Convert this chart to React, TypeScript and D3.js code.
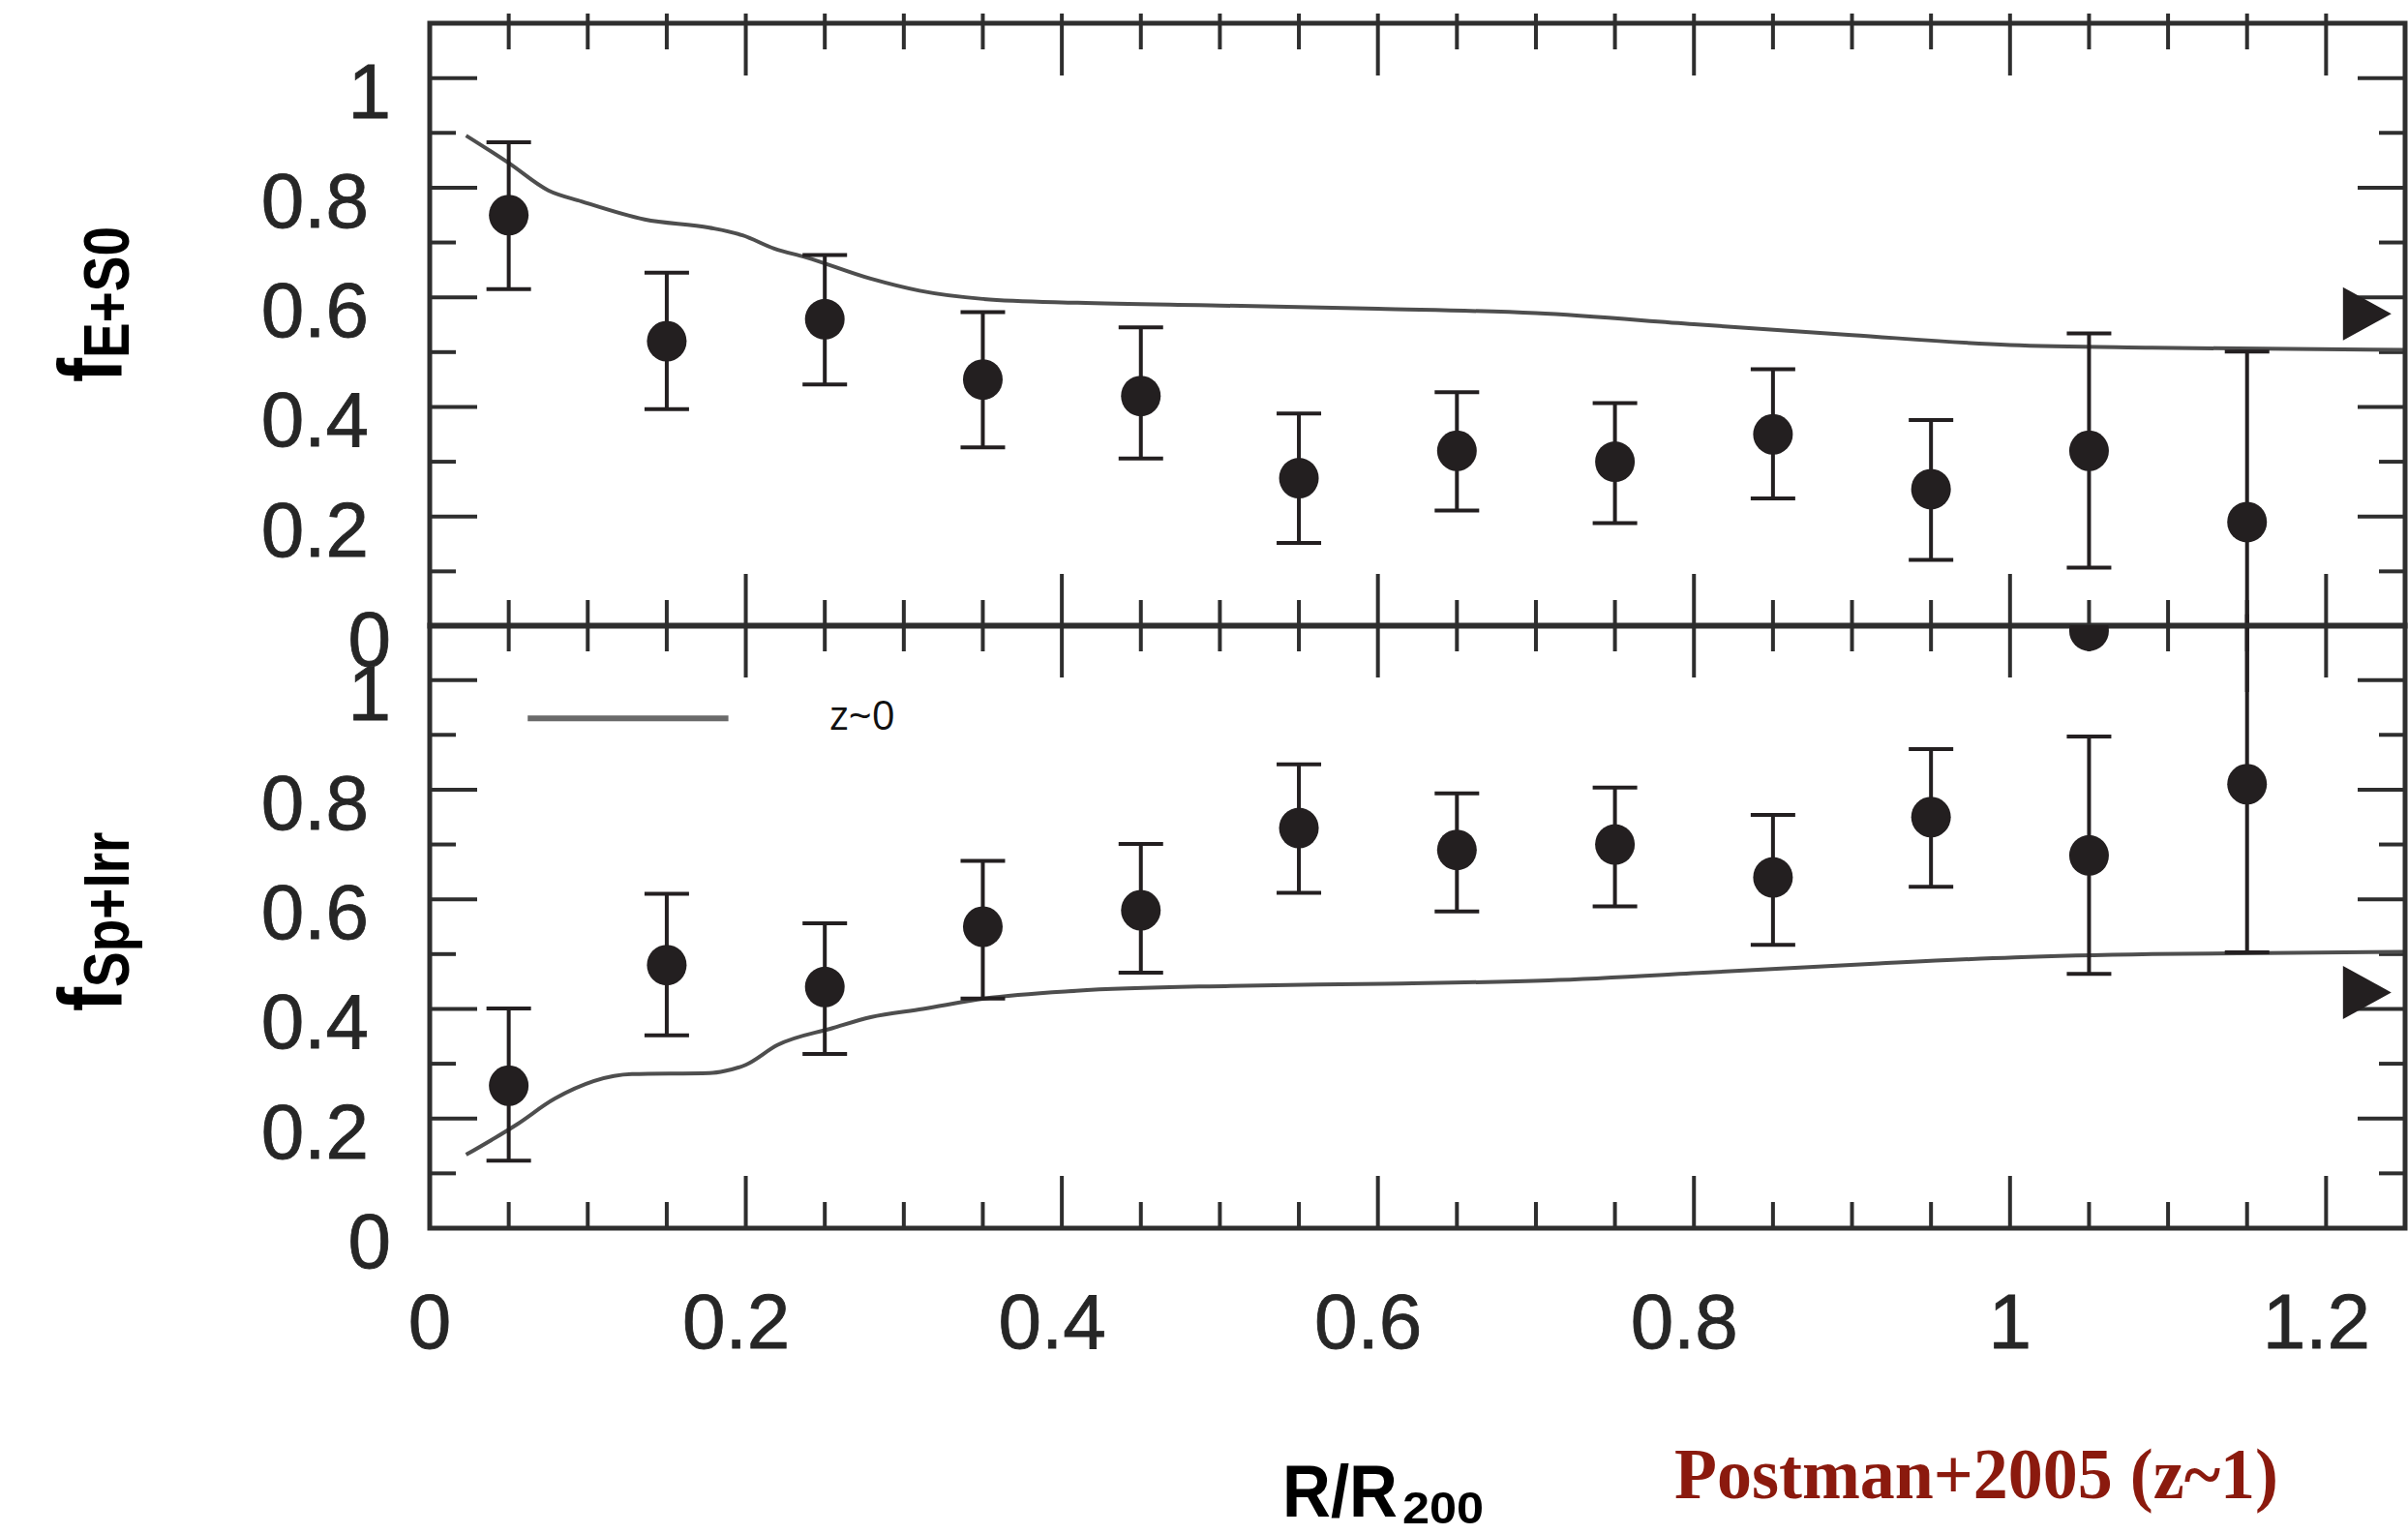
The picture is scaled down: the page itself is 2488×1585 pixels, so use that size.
import React from "react";
import * as d3 from "d3";

// Cluster-centric radius bins (R/R200)
const radiusBins = [0.05, 0.15, 0.25, 0.35, 0.45, 0.55, 0.65, 0.75, 0.85, 0.95, 1.05, 1.15];

// Early-type fraction f(E+S0) at z~1 with error bounds
const earlyFrac = [0.75, 0.52, 0.56, 0.45, 0.42, 0.27, 0.32, 0.3, 0.35, 0.25, 0.32, 0.19];
const earlyHi = [0.883, 0.645, 0.677, 0.573, 0.545, 0.388, 0.427, 0.407, 0.469, 0.376, 0.534, 0.501];
const earlyLo = [0.615, 0.396, 0.441, 0.326, 0.306, 0.152, 0.211, 0.188, 0.233, 0.121, 0.107, -0.12];

// Late-type fraction f(Sp+Irr) at z~1 with error bounds
const lateFrac = [0.26, 0.48, 0.44, 0.55, 0.58, 0.73, 0.69, 0.7, 0.64, 0.75, 0.68, 0.81];
const lateHi = [0.401, 0.61, 0.556, 0.67, 0.701, 0.846, 0.793, 0.804, 0.754, 0.874, 0.897, 1.12];
const lateLo = [0.123, 0.352, 0.318, 0.419, 0.466, 0.612, 0.578, 0.587, 0.517, 0.623, 0.464, 0.503];

// Local (z~0) relation
const localEarlyR = [0.023, 0.05, 0.075, 0.096, 0.136, 0.177, 0.198, 0.218, 0.238, 0.279, 0.31, 0.35, 0.41, 0.5, 0.6, 0.7, 0.8, 0.9, 1.0, 1.09, 1.25];
const localEarlyF = [0.895, 0.845, 0.795, 0.775, 0.742, 0.727, 0.713, 0.689, 0.673, 0.634, 0.612, 0.597, 0.59, 0.585, 0.579, 0.571, 0.551, 0.531, 0.513, 0.508, 0.504];
const localLateR = [0.023, 0.055, 0.079, 0.128, 0.177, 0.187, 0.2, 0.22, 0.255, 0.279, 0.312, 0.351, 0.409, 0.507, 0.604, 0.708, 0.812, 0.917, 1.003, 1.09, 1.25];
const localLateF = [0.134, 0.189, 0.236, 0.281, 0.283, 0.287, 0.298, 0.334, 0.365, 0.385, 0.4, 0.419, 0.433, 0.442, 0.446, 0.452, 0.467, 0.483, 0.494, 0.5, 0.504];

// Field values marked at the right edge
const fieldR = 1.226;
const fieldEarly = 0.57;
const fieldLate = 0.43;

// Marker cut by the top edge of the lower panel
const edgeMarkerR = 1.05;
const edgeMarkerF = 1.09;

// Axis ticks
const yTickLabels = ["0", "0.2", "0.4", "0.6", "0.8", "1"];
const xTickLabels = ["0", "0.2", "0.4", "0.6", "0.8", "1", "1.2"];

const W = 2488;
const H = 1585;
const INK = "#231f20";
const FRAME = "#2e2e2e";
const LABEL = "#262626";
const SANS = "'Liberation Sans', Arial, Helvetica, sans-serif";

const x = d3.scaleLinear().domain([0, 1.25]).range([444, 2485]);
const yTop = d3.scaleLinear().domain([0, 1.1]).range([647, 24]);
const yBot = d3.scaleLinear().domain([0, 1.1]).range([1269, 646]);

const xMinor = d3.range(1, 25).map((i) => +(i * 0.05).toFixed(2));
const yMinor = d3.range(1, 11).map((i) => +(i * 0.1).toFixed(1));

type PanelProps = {
  y: d3.ScaleLinear<number, number>;
  frac: number[];
  hi: number[];
  lo: number[];
  localR: number[];
  localF: number[];
  field: number;
  outerTop: boolean;
  clipId: string;
};

function Panel({ y, frac, hi, lo, localR, localF, field, outerTop, clipId }: PanelProps) {
  const [x0, x1] = x.range();
  const yb = y(0);
  const yt = y(1.1);
  const line = d3
    .line<number>()
    .x((_, i) => x(localR[i]))
    .y((d) => y(d))
    .curve(d3.curveMonotoneX);
  const isMajor = (v: number) => Math.abs(v / 0.2 - Math.round(v / 0.2)) < 1e-6;
  const cap = 23;
  const fx = x(fieldR);
  const fy = y(field);
  return (
    <g>
      <defs>
        <clipPath id={clipId}>
          <rect x={x0} y={yt} width={x1 - x0} height={yb - yt} />
        </clipPath>
      </defs>
      {/* x ticks on bottom and top edges */}
      {xMinor.map((v) => {
        const len = isMajor(v) ? 54 : 27;
        return (
          <g key={"xt" + v} stroke={FRAME} strokeWidth={4}>
            <line x1={x(v)} x2={x(v)} y1={yb} y2={yb - len} />
            <line x1={x(v)} x2={x(v)} y1={yt - (outerTop ? 10 : 0)} y2={yt + len} />
          </g>
        );
      })}
      {/* y ticks on left and right edges */}
      {yMinor.map((v) => {
        const len = isMajor(v) ? 49 : 27;
        return (
          <g key={"yt" + v} stroke={FRAME} strokeWidth={4}>
            <line x1={x0} x2={x0 + len} y1={y(v)} y2={y(v)} />
            <line x1={x1} x2={x1 - len} y1={y(v)} y2={y(v)} />
          </g>
        );
      })}
      {/* y tick labels */}
      {yTickLabels.map((t) => (
        <text
          key={"yl" + t}
          x={t.includes(".") ? x0 - 63 : x0 - 40}
          y={y(+t) + 41}
          textAnchor="end"
          fontFamily={SANS}
          fontSize={80}
          fill={LABEL}
          stroke={LABEL}
          strokeWidth={0.8}
        >
          {t}
        </text>
      ))}
      {/* local relation */}
      <path d={line(localF) ?? ""} fill="none" stroke="#4e4e4e" strokeWidth={4} />
      {/* error bars and points */}
      {radiusBins.map((r, i) => {
        const cx = x(r);
        return (
          <g key={"pt" + r} stroke={INK} strokeWidth={4}>
            <line x1={cx} x2={cx} y1={y(hi[i])} y2={y(lo[i])} />
            {hi[i] <= 1.1 && <line x1={cx - cap} x2={cx + cap} y1={y(hi[i])} y2={y(hi[i])} />}
            {lo[i] >= 0 && <line x1={cx - cap} x2={cx + cap} y1={y(lo[i])} y2={y(lo[i])} />}
            <ellipse cx={cx} cy={y(frac[i])} rx={20.5} ry={21} fill={INK} stroke="none" />
          </g>
        );
      })}
      {/* field value marker */}
      <path d={`M${fx - 25},${fy - 27.5}L${fx + 25},${fy}L${fx - 25},${fy + 27.5}Z`} fill={INK} />
      {/* frame */}
      <rect x={x0} y={yt} width={x1 - x0} height={yb - yt} fill="none" stroke={FRAME} strokeWidth={5} />
    </g>
  );
}

export default function App() {
  return (
    <svg
      width={W}
      height={H}
      viewBox={`0 0 ${W} ${H}`}
      style={{ position: "absolute", left: 0, top: 0, background: "#fff", display: "block" }}
    >
      <rect width={W} height={H} fill="#fff" />
      <Panel
        y={yTop}
        frac={earlyFrac}
        hi={earlyHi}
        lo={earlyLo}
        localR={localEarlyR}
        localF={localEarlyF}
        field={fieldEarly}
        outerTop={true}
        clipId="clip-top"
      />
      <Panel
        y={yBot}
        frac={lateFrac}
        hi={lateHi}
        lo={lateLo}
        localR={localLateR}
        localF={localLateF}
        field={fieldLate}
        outerTop={false}
        clipId="clip-bottom"
      />
      <ellipse
        cx={x(edgeMarkerR)}
        cy={yBot(edgeMarkerF)}
        rx={20.5}
        ry={21}
        fill={INK}
        clipPath="url(#clip-bottom)"
      />

      {/* legend */}
      <line x1={x(0.062)} x2={x(0.189)} y1={yBot(0.93)} y2={yBot(0.93)} stroke="#6a6a6a" strokeWidth={6} />
      <text x={x(0.253)} y={yBot(0.93) + 12} fontFamily="'Open Sans', 'Liberation Sans', sans-serif" fontSize={42} fill="#111">
        z~0
      </text>

      {/* x tick labels */}
      {xTickLabels.map((t) => (
        <text
          key={"xl" + t}
          x={x(+t) + (t.includes(".") ? -10 : 0)}
          y={1393}
          textAnchor="middle"
          fontFamily={SANS}
          fontSize={80}
          fill={LABEL}
          stroke={LABEL}
          strokeWidth={0.8}
        >
          {t}
        </text>
      ))}

      {/* y-axis titles */}
      <text transform="translate(125,395) rotate(-90) scale(0.82,1)" fontFamily={SANS} fontWeight="bold" fill="#000">
        <tspan fontSize={92}>f</tspan>
        <tspan fontSize={67} dy={8}>E+S0</tspan>
      </text>
      <text transform="translate(125,1045) rotate(-90) scale(0.82,1)" fontFamily={SANS} fontWeight="bold" fill="#000">
        <tspan fontSize={92}>f</tspan>
        <tspan fontSize={67} dy={8}>Sp+Irr</tspan>
      </text>

      {/* x-axis title */}
      <text x={1325} y={1567} fontFamily={SANS} fontWeight="bold" fontSize={76} textLength={119} lengthAdjust="spacingAndGlyphs" fill="#000">
        R/R
      </text>
      <text x={1449} y={1574} fontFamily={SANS} fontWeight="bold" fontSize={46} textLength={84} lengthAdjust="spacingAndGlyphs" fill="#000">
        200
      </text>

      {/* source note */}
      <text
        x={1730}
        y={1548}
        fontFamily="'Liberation Serif', 'DejaVu Serif', serif"
        fontWeight="bold"
        fontSize={73}
        textLength={624}
        lengthAdjust="spacingAndGlyphs"
        fill="#8b1a0e"
      >
        Postman+2005 (z~1)
      </text>
    </svg>
  );
}
